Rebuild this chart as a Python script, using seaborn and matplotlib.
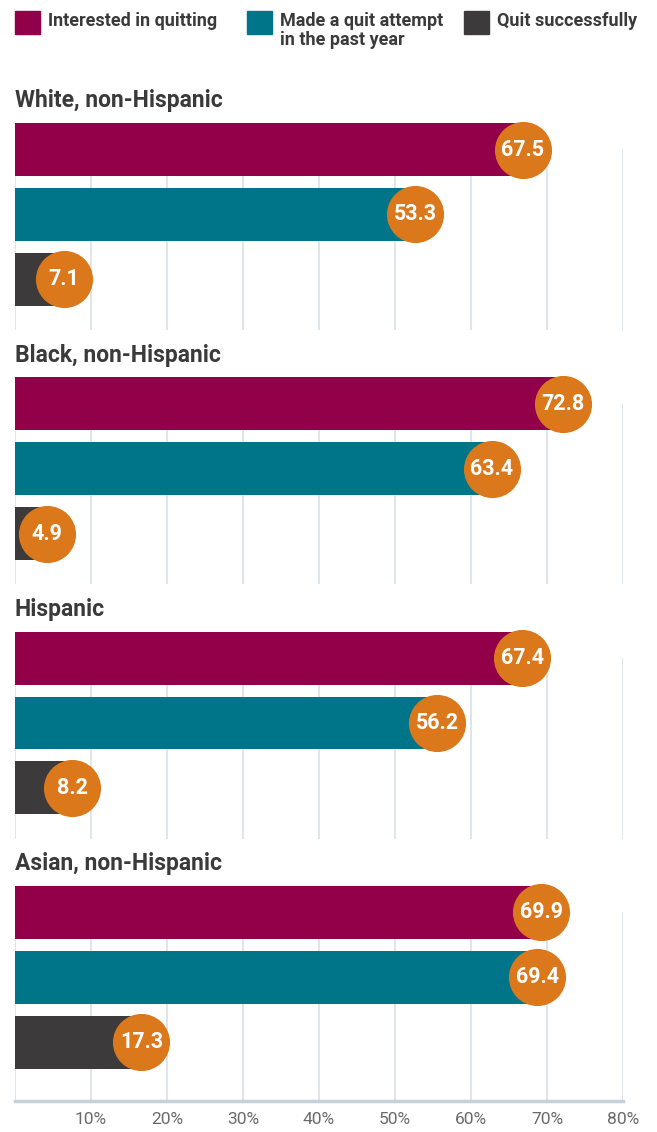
import matplotlib
matplotlib.use("Agg")
import matplotlib.pyplot as plt
from matplotlib.patches import Rectangle
from matplotlib.transforms import offset_copy
import seaborn as sns

# data
groups = ["White, non-Hispanic", "Black, non-Hispanic", "Hispanic", "Asian, non-Hispanic"]
measures = ["Interested in quitting", "Made a quit attempt\nin the past year", "Quit successfully"]
interested = [67.5, 72.8, 67.4, 69.9]
attempted = [53.3, 63.4, 56.2, 69.4]
succeeded = [7.1, 4.9, 8.2, 17.3]
tick_vals = [10, 20, 30, 40, 50, 60, 70, 80]
tick_labels = ["10%", "20%", "30%", "40%", "50%", "60%", "70%", "80%"]

colors = ["#93004a", "#00758a", "#3d3a3b"]
orange = "#db781c"
text_dark = "#3a3a3a"
grid_col = "#d6dee3"

sns.set_style("white")
plt.rcParams["font.family"] = ["Roboto", "DejaVu Sans"]

W, H = 657, 1132
fig = plt.figure(figsize=(W / 100, H / 100), dpi=100)

def fy(px):
    return 1 - px / H

# legend (drawn by hand to match the layout)
leg_x = [15, 247, 464]
for x0, lab, c in zip(leg_x, measures, colors):
    fig.patches.append(Rectangle((x0 / W, fy(34)), 25 / W, 23 / H,
                                 transform=fig.transFigure, color=c))
    fig.text((x0 + 33) / W, fy(12), lab, ha="left", va="top",
             fontsize=13, fontweight="bold", color=text_dark, linespacing=1.05)

left, right = 15, 623
step = 254.3
for k, g in enumerate(groups):
    off = k * step
    last = k == len(groups) - 1
    top_px = 149.5 + off      # centre of first bar
    bot_px = (338 if last else 330) + off
    ax = fig.add_axes([left / W, fy(bot_px), (right - left) / W, (bot_px - top_px) / H])
    vals = [interested[k], attempted[k], succeeded[k]]
    cats = ["a", "b", "c"]
    sns.barplot(x=vals, y=cats, hue=cats, palette=colors, legend=False,
                orient="h", width=0.815, saturation=1, ax=ax)
    for p in ax.patches:
        p.set_clip_on(False)
        p.set_linewidth(0)
    ax.set_xlim(0, 80)
    ax.set_ylim(2.78 + (0.12 if last else 0), 0)
    ax.set_xticks([0] + tick_vals)
    ax.xaxis.grid(True, color=grid_col, linewidth=1.1)
    ax.set_axisbelow(True)
    for s in ["top", "right", "left"]:
        ax.spines[s].set_visible(False)
    ax.set_yticks([])
    ax.set_ylabel("")
    ax.set_xlabel("")
    ax.tick_params(axis="x", length=0)
    if last:
        ax.spines["bottom"].set_color("#c5d0d7")
        ax.spines["bottom"].set_linewidth(2.5)
        ax.set_xticklabels([""] + tick_labels, fontsize=12.5, color="#6a6a6a")
        ax.tick_params(axis="x", pad=8)
    else:
        ax.spines["bottom"].set_visible(False)
        ax.set_xticklabels([])
    # badges sit slightly inside the bar end
    tr = offset_copy(ax.transData, fig=fig, x=-5, y=0, units="dots")
    ax.scatter(vals, [0, 1, 2], s=1690, color=orange, clip_on=False, zorder=4,
               linewidths=0, transform=tr)
    for i, v in enumerate(vals):
        ax.text(v, i, f"{v}", ha="center", va="center", color="white",
                fontsize=15.5, fontweight="bold", zorder=5, clip_on=False,
                transform=tr)
    fig.text(15 / W, fy(101 + off), g, ha="left", va="center",
             fontsize=16.5, fontweight="bold", color=text_dark)

fig.savefig("out.png", dpi=100)
